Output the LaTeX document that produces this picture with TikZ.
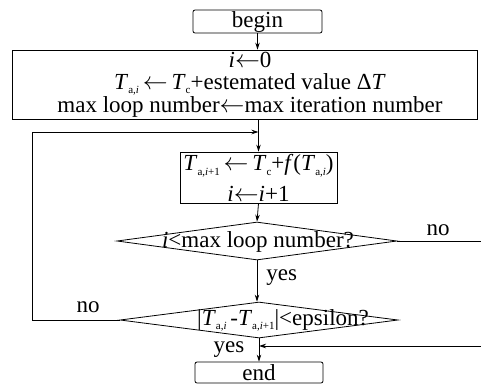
\documentclass[tikz,border=0pt]{standalone}
\usepackage{fontspec}
\setmainfont{Liberation Serif}
\usetikzlibrary{shapes.geometric,arrows.meta}
\newcommand\Ti{\textit{T}}
\newcommand\lsub[1]{\raisebox{-4.5pt}{\fontsize{11}{11}\selectfont #1}}
\newcommand\myarrow{\ensuremath{\leftarrow}}
\begin{document}
\begin{tikzpicture}[x=1pt,y=-1pt,font=\fontsize{23}{23}\selectfont,line width=0.8pt,
  box/.style={draw,inner sep=0pt},
  arr/.style={-{Stealth[length=7pt,width=4.5pt]}},
  txt/.style={anchor=base,inner sep=0pt},
  dia/.style={draw,diamond,inner sep=0pt,aspect=7}]
\useasboundingbox (0,0) rectangle (481,384);
% begin
\node[box,rounded corners=2pt,minimum width=129pt,minimum height=23pt] (begin) at (257.5,21.5) {};
\node[txt] (begint) at (257.5,27) {begin};
% init
\node[box,minimum width=465pt,minimum height=69pt] (init) at (244.5,84.5) {};
\node[inner sep=0pt,align=center,font=\fontsize{23}{22}\selectfont] (initt) at (250,84.5)
  {\textit{i}\myarrow0\\
   \Ti\lsub{a,\textit{i}}\,\myarrow\,\Ti\lsub{c}+estemated value Δ\textit{T}\\
   max loop number\myarrow max iteration number};
% update
\node[box,minimum width=157pt,minimum height=51pt] (upd) at (258.5,177.5) {};
\node[inner sep=0pt,align=center,font=\fontsize{23}{31}\selectfont] (updt) at (258.5,178)
  {\Ti\lsub{a,\textit{i}+1}\,\myarrow\,\Ti\lsub{c}+\textit{f}(\Ti\lsub{a,\textit{i}})\\
   \textit{i}\myarrow\textit{i}+1};
% decisions
\node[dia,minimum width=280pt,minimum height=38pt] (d1) at (257,241) {};
\node[txt] (d1t) at (258,247) {\textit{i}<max loop number?};
\node[dia,minimum width=278pt,minimum height=36pt] (d2) at (259,320) {};
\node[txt] (d2t) at (283,325) {|\Ti\lsub{a,\textit{i}}\,-\Ti\lsub{a,\textit{i}+1}|<epsilon?};
% end
\node[box,rounded corners=2pt,minimum width=128pt,minimum height=21pt] (end) at (259,372.5) {};
\node[txt] (endt) at (259,380) {end};
% helper coordinates
\coordinate (loopcorner) at (32,132);
\coordinate (join) at (upd.north |- loopcorner);
\coordinate (redge1) at (481,241);
\coordinate (redge2) at (481,346);
\coordinate (join2) at (d2.south |- redge2);
% connectors
\draw[arr] (begin.south) -- (begin.south |- init.north);
\draw (upd.north |- init.south) -- (join);
\draw[arr] (join) -- (upd.north);
\draw[arr] (d2.west) -| (loopcorner) -- (join);
\draw[arr] (upd.south) -- (d1.north);
\draw[arr] (d1.south) -- (d1.south |- d2.north);
\draw (d1.east) -- (redge1);
\draw[arr] (redge2) -- (join2);
\draw[arr] (d2.south) -- (end.north);
% labels
\node[txt] (no1) at (438,235) {no};
\node[txt] (no2) at (88,312) {no};
\node[txt,anchor=base west] (yes1) at (266,280) {yes};
\node[txt] (yes2) at (229,352) {yes};
\end{tikzpicture}
\end{document}
